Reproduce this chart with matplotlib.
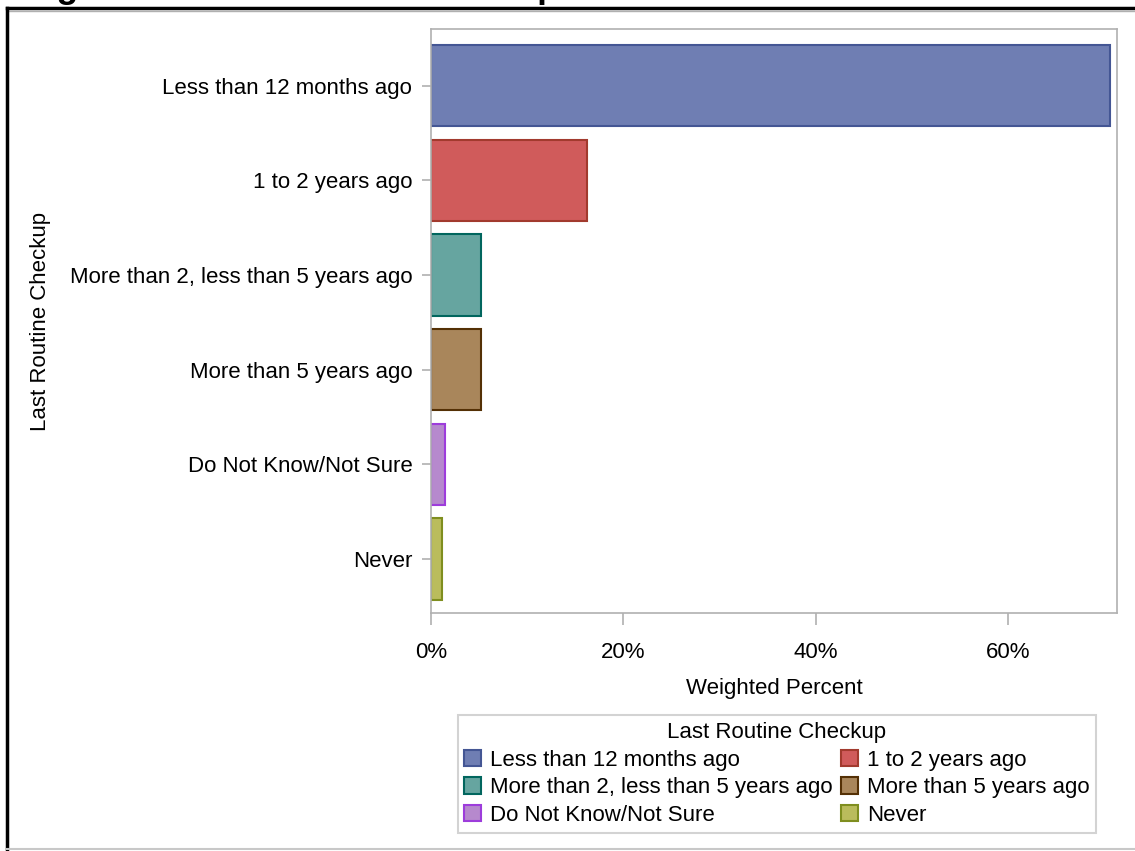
import matplotlib
matplotlib.use("Agg")
import matplotlib.pyplot as plt
from matplotlib.patches import Patch
from matplotlib.lines import Line2D
from matplotlib.ticker import FuncFormatter

plt.rcParams['font.family'] = ['Liberation Sans', 'DejaVu Sans']

# data
categories = ["Less than 12 months ago", "1 to 2 years ago",
              "More than 2, less than 5 years ago", "More than 5 years ago",
              "Do Not Know/Not Sure", "Never"]
weighted_pct = [70.6, 16.2, 5.2, 5.2, 1.5, 1.1]
x_ticks = [0, 20, 40, 60]

fill_colors = ["#6F7EB3", "#D05B5B", "#66A5A0", "#A9865B", "#B689CD", "#BABC5C"]
edge_colors = ["#445694", "#A23A2E", "#01665E", "#543005", "#9D3CDB", "#7F8E1F"]

W, H = 1135, 851
fig = plt.figure(figsize=(W / 100, H / 100), dpi=100)
ax = fig.add_axes([431 / W, 1 - 613 / H, (1117 - 431) / W, (613 - 29) / H])

ypos = list(range(len(categories)))
ax.barh(ypos, weighted_pct, height=0.86, color=fill_colors,
        edgecolor=edge_colors, linewidth=1.5, zorder=2)

ax.set_xlim(0, 71.3)
ax.set_ylim(5.57, -0.6)
ax.set_yticks(ypos)
ax.set_yticklabels(categories)
ax.set_xticks(x_ticks)
ax.xaxis.set_major_formatter(FuncFormatter(lambda v, p: f"{v:.0f}%"))

for s in ax.spines.values():
    s.set_color("#B0B0B0")
    s.set_linewidth(1.2)
ax.tick_params(axis='x', length=8.6, width=1.2, color="#B0B0B0",
               labelsize=16, pad=12)
ax.tick_params(axis='y', length=6.5, width=1.2, color="#B0B0B0",
               labelsize=16, pad=7)

ax.set_xlabel("Weighted Percent", fontsize=16, labelpad=11)
ax.set_ylabel("Last Routine Checkup", fontsize=16)
ax.yaxis.set_label_coords((51 - 431) / (1117 - 431), 0.5)

# legend, row-major order like the original
handles = [Patch(facecolor=f, edgecolor=e, linewidth=1.5)
           for f, e in zip(fill_colors, edge_colors)]
order = [0, 2, 4, 1, 3, 5]
leg = fig.legend([handles[i] for i in order], [categories[i] for i in order],
                 ncol=2, title="Last Routine Checkup", fontsize=16,
                 title_fontsize=16, loc="center",
                 bbox_to_anchor=(777 / W, 1 - 774 / H),
                 frameon=True, fancybox=False, edgecolor="#C8C8C8",
                 handlelength=0.75, handleheight=0.75, handletextpad=0.4,
                 columnspacing=0.4, labelspacing=0.3, borderpad=0.3)
leg.get_frame().set_linewidth(1.5)

# cropped title at the very top
fig.text(25 / W, 1 + 2 / H, "Figure 1: Last Routine Checkup", fontsize=25.5,
         fontweight='bold', va='baseline', ha='left')

# outer frame
fig.add_artist(Line2D([7 / W, 1], [1 - 8 / H, 1 - 8 / H], color="black", lw=2.5))
fig.add_artist(Line2D([7 / W, 1], [1 - 10.5 / H, 1 - 10.5 / H], color="#B0B0B0", lw=1))
fig.add_artist(Line2D([7 / W, 7 / W], [0, 1 - 8 / H], color="black", lw=2.5))
fig.add_artist(Line2D([7 / W, 1], [2 / H, 2 / H], color="#C8C8C8", lw=1.5))

fig.savefig("out.png", dpi=100)
